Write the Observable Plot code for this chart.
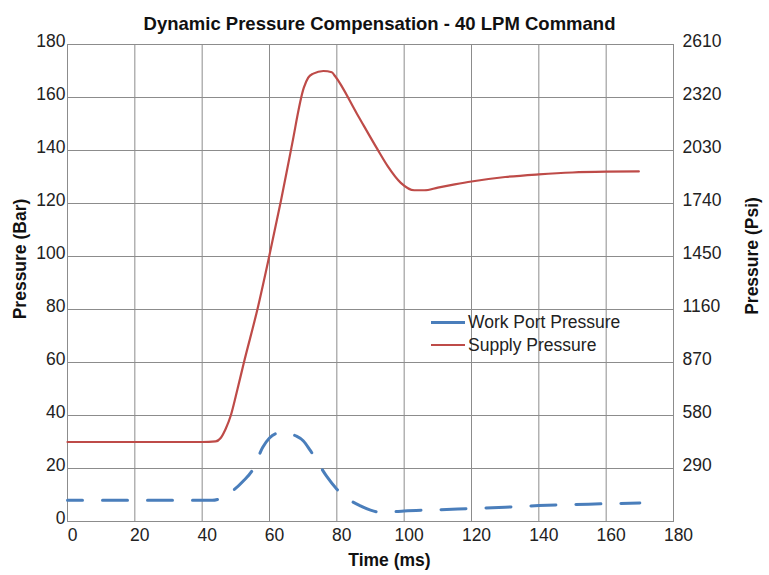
<!DOCTYPE html>
<html><head><meta charset="utf-8">
<script src="https://cdn.jsdelivr.net/npm/d3@7"></script>
<script src="https://cdn.jsdelivr.net/npm/@observablehq/plot@0.6"></script>
<style>
body{margin:0;background:#fff;}
#wrap{position:relative;width:769px;height:575px;}
#legend{position:absolute;left:431px;top:311px;font:17.5px "Liberation Sans",Arial,sans-serif;color:#222;line-height:22.5px;}
#legend .row{display:flex;align-items:center;white-space:nowrap;}
#legend .sw{width:34px;height:2.5px;margin-right:3px;}
</style></head><body><div id="wrap"></div>
<script>
const title = "Dynamic Pressure Compensation - 40 LPM Command";
const xLabel = "Time (ms)";
const yLabelLeft = "Pressure (Bar)";
const yLabelRight = "Pressure (Psi)";
const seriesNames = ["Work Port Pressure", "Supply Pressure"];
const seriesColors = ["#4a7ebb", "#be4b48"];

const xTicks = [0,20,40,60,80,100,120,140,160,180];
const barTicks = [0,20,40,60,80,100,120,140,160,180];
const psiTicks = [290,580,870,1160,1450,1740,2030,2320,2610];
const psiPerBar = 14.5;

const supplyTime  = [0,10,20,30,40,44,45.5,47,48.5,50.5,52.4,56.4,59.9,63.4,66.5,70.2,71.5,73,76,78.5,79.5,86,92,95,99,103,106,110,115,120,130,140,150,160,169.7];
const supplyBar   = [30,30,30,30,30,30.2,31.5,35,40,50,60,80,100,121,141,163.7,167.5,169,170,169.5,168,153.8,140.6,134.3,127.8,125,125,126,127.2,128.3,130,131,131.7,132,132.1];

const workTime = [0,10,20,30,40,43,46,49,52,55,58,60,62,64,66,68,70,72,74,77,80,83,87,90,93,96,100,110,120,130,140,150,160,170];
const workBar  = [8,8,8,8,8,8,9,11.5,15,19.5,28,31.5,33.2,33.6,33,32.2,30.5,27,23,17,12.2,8.8,5.9,4.3,3.5,3.6,4.0,4.4,4.9,5.4,6.0,6.4,6.7,7.0];

const supply = supplyTime.map((t,i)=>({t, v: supplyBar[i]}));
const work = workTime.map((t,i)=>({t, v: workBar[i]}));

const gridColor = "#8c8c8c";
const chart = Plot.plot({
  width: 769, height: 575,
  marginLeft: 67, marginRight: 96, marginTop: 44, marginBottom: 54,
  style: {fontFamily: '"Liberation Sans", Arial, sans-serif', fontSize: "17.5px", color: "#222", background: "#fff"},
  x: {domain: [0,180]},
  y: {domain: [0,180]},
  marks: [
    Plot.gridX(xTicks, {stroke: gridColor, strokeOpacity: 1}),
    Plot.gridY(barTicks, {stroke: gridColor, strokeOpacity: 1}),
    Plot.frame({stroke: gridColor}),
    Plot.axisX(xTicks, {tickSize: 0, tickPadding: 7, dx: 5, label: null}),
    Plot.axisY(barTicks, {anchor: "left", tickSize: 0, tickPadding: 2, dy: -3, label: null}),
    Plot.axisY(psiTicks.map(p => p/psiPerBar), {anchor: "right", tickSize: 0, tickPadding: 9, dy: -3, label: null,
      tickFormat: d => String(Math.round(d*psiPerBar))}),
    Plot.line(work, {x: "t", y: "v", stroke: seriesColors[0], strokeWidth: 3, curve: "monotone-x", strokeDasharray: "25,20", strokeDashoffset: 10}),
    Plot.line(supply, {x: "t", y: "v", stroke: seriesColors[1], strokeWidth: 2.2, curve: "monotone-x"}),
    Plot.text([title], {frameAnchor: "top", dx: 9, dy: -28, fontWeight: "bold", fontSize: 18.5, fill: "#111"}),
    Plot.text([xLabel], {frameAnchor: "bottom", dx: 19, dy: 44, fontWeight: "bold", fontSize: 17.5, fill: "#111"}),
    Plot.text([yLabelLeft], {frameAnchor: "left", textAnchor: "middle", dx: -47, dy: -24, rotate: -90, fontWeight: "bold", fontSize: 17.5, fill: "#111"}),
    Plot.text([yLabelRight], {frameAnchor: "right", textAnchor: "middle", dx: 79, dy: -27, rotate: -90, fontWeight: "bold", fontSize: 17.5, fill: "#111"})
  ]
});
const wrap = document.getElementById("wrap");
wrap.appendChild(chart);
const legend = document.createElement("div");
legend.id = "legend";
legend.innerHTML = seriesNames.map((n,i)=>`<div class="row"><div class="sw" style="background:${seriesColors[i]}"></div><span>${n}</span></div>`).join("");
wrap.appendChild(legend);
</script></body></html>
